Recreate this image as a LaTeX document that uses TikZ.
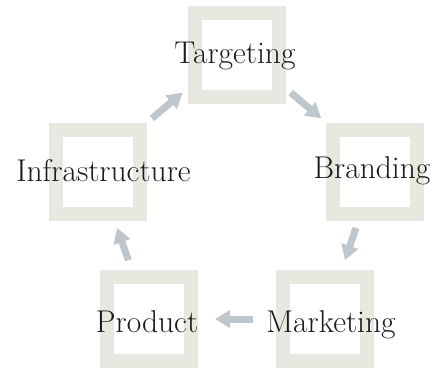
\documentclass[tikz,border=0pt]{standalone}
\usepackage{xcolor}
\usepackage{tikz}
\usetikzlibrary{arrows.meta, positioning, calc}
\definecolor{boxbeige}{HTML}{E9E8E0}
\definecolor{arrowgrey}{HTML}{BEC7CB}
\definecolor{labeltext}{HTML}{1E1A1B}

\begin{document}
\begin{tikzpicture}[x=1pt, y=-1pt,
  cyclebox/.style={draw=boxbeige, line width=14pt, minimum size=84pt, inner sep=0pt},
  cyclelabel/.style={text=labeltext, font=\fontsize{31.5}{36}\selectfont, anchor=base, inner sep=0pt},
  cyclearrow/.style={draw=arrowgrey, line width=7pt, -{Triangle[length=15pt, width=17pt]}}]
  \useasboundingbox (0,0) rectangle (437,368);

  % Boxes of the cycle
  \foreach \name/\x/\y in {target/237/55, brand/375/172, market/325/319, product/149/319, infra/97.5/172} {
    \node[cyclebox] (\name) at (\x,\y) {};
  }

  % Labels over the boxes
  \foreach \name/\word/\dx/\dy in {
    target/Targeting/-2/8,
    brand/Branding/-3/6,
    market/Marketing/6/13,
    product/Product/-2/13,
    infra/Infrastructure/6/9
  } {
    \node[cyclelabel] (\name-label) at ([xshift=\dx pt, yshift=-\dy pt]\name.center) {\word};
  }

  % Arrows between the boxes
  \draw[cyclearrow] ($(infra)!0.39!(target)+(0,-8)$) -- ($(infra)!0.61!(target)+(0,-8)$);
  \draw[cyclearrow] ($(target)!0.39!(brand)+(0,-8)$) -- ($(target)!0.61!(brand)+(0,-8)$);
  \draw[cyclearrow] ($(brand)!0.38!(market)$) -- ($(brand)!0.6!(market)$);
  \draw[cyclearrow] ($(market)!0.41!(product)$) -- ($(market)!0.625!(product)$);
  \draw[cyclearrow] ($(product)!0.4!(infra)$) -- ($(product)!0.62!(infra)$);
\end{tikzpicture}
\end{document}
